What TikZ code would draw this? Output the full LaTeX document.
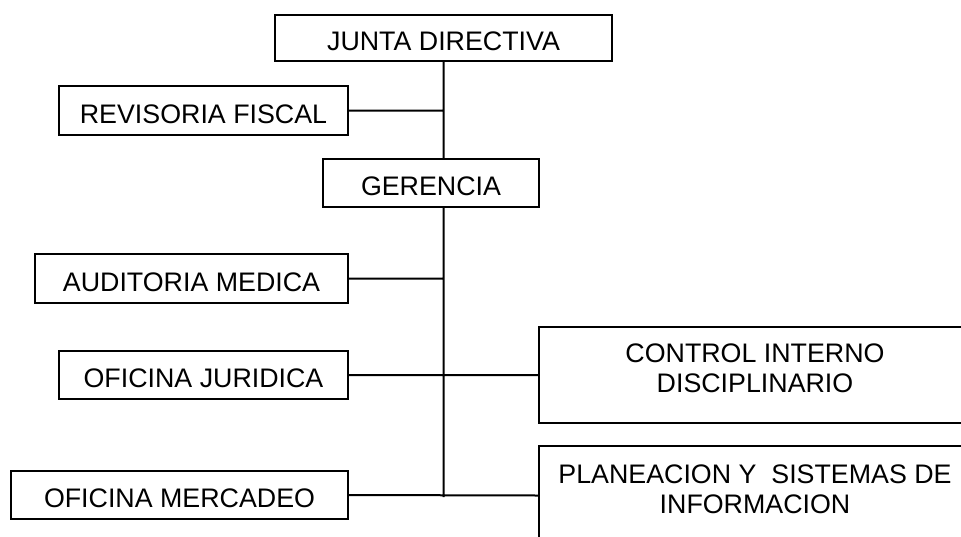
\documentclass[tikz,border=0pt]{standalone}
\usepackage{fontspec}
\setmainfont{Liberation Sans}
\usetikzlibrary{positioning, calc}

\tikzset{
    unit/.style={draw, line width=2pt, inner sep=0pt, align=center,
        text height=25pt, text depth=0pt,
        font=\fontsize{26.8}{30}\selectfont},
    unit2/.style={unit, text height=49pt, text depth=14pt},
    link/.style={line width=2pt}
}

\begin{document}
\begin{tikzpicture}[x=1pt, y=-1pt]
                        \useasboundingbox (0, 0) rectangle (961, 536);
                        \clip (0, 0) rectangle (961, 536);
                        \fill[white] (0, 0) rectangle (961, 536);
                        \node[unit, minimum width=337, minimum height=46] (jd) at (443.5, 38) {JUNTA DIRECTIVA};
                        \node[unit, minimum width=289, minimum height=49] (rf) at (203.5, 110.5) {REVISORIA FISCAL};
                        \node[unit, minimum width=216, minimum height=48] (ger) at (431, 183) {GERENCIA};
                        \node[unit, minimum width=313, minimum height=49] (am) at (191.5, 278.5) {AUDITORIA MEDICA};
                        \node[unit, minimum width=289, minimum height=48] (oj) at (203.5, 375) {OFICINA JURIDICA};
                        \node[unit, minimum width=337, minimum height=48] (om) at (179.5, 495) {OFICINA MERCADEO};
                        \node[unit2, minimum width=432, minimum height=96] (cid) at (755, 375) {CONTROL INTERNO\\DISCIPLINARIO};
                        \node[unit2, minimum width=432, minimum height=99] (psi) at (755, 495.5) {PLANEACION Y\ \ SISTEMAS DE\\INFORMACION};
                        \coordinate (tail) at (443.5, 497);
                        \draw[link]
                        (jd.south) -- (jd.south |- ger.north)
                        (jd.south |- ger.south) -- (tail)
                        (rf.east) -- (rf.east -| jd.south)
                        (am.east) -- (am.east -| jd.south)
                        (oj.east) -- (cid.west)
                        (om.east) -- (psi.west);
                    \end{tikzpicture}
\end{document}
